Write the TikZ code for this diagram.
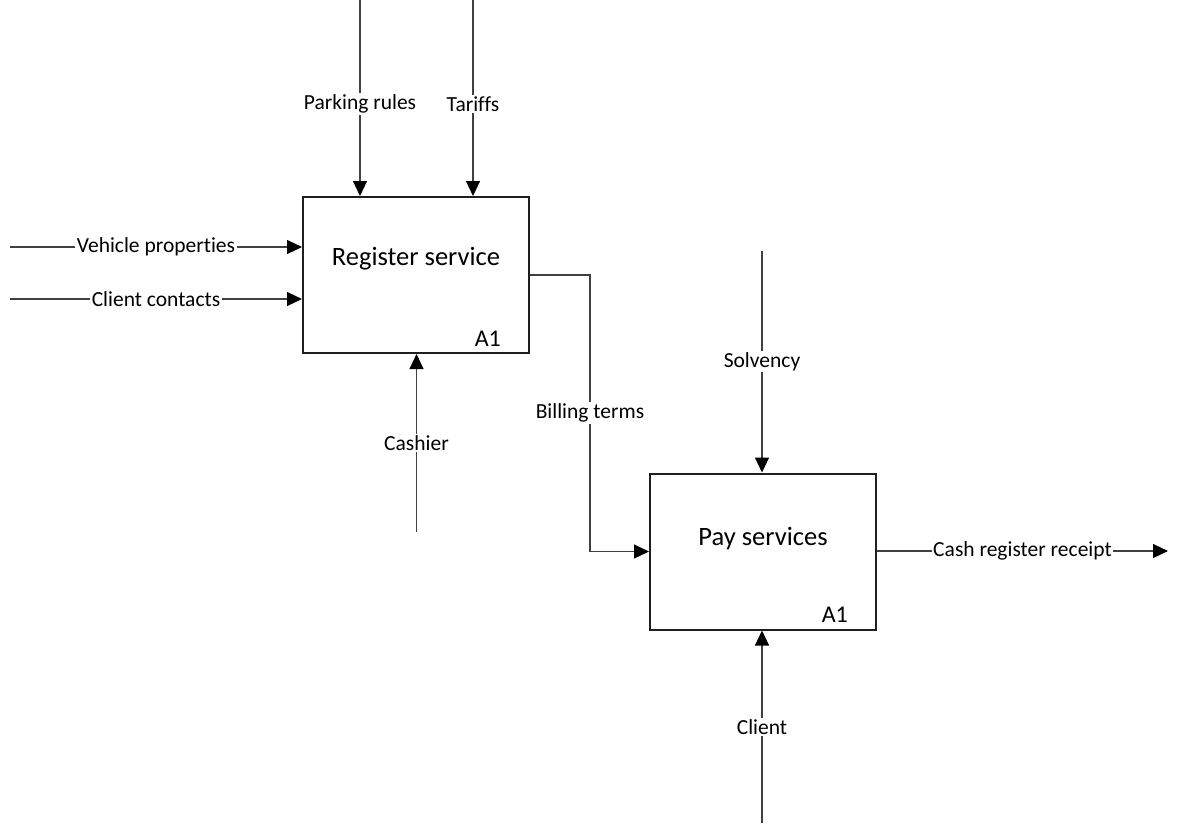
\documentclass[tikz,border=0pt]{standalone}
\usepackage{fontspec}
\setmainfont[RawFeature={-liga;-clig;-dlig;-calt}]{Carlito}
\usetikzlibrary{arrows.meta}
\begin{document}
\begin{tikzpicture}[x=1pt,y=-1pt,
  func/.style={draw=black!88,line width=2pt,minimum width=226pt,minimum height=156pt,inner sep=0pt},
  title/.style={font=\fontsize{26.5}{30}\selectfont,inner sep=0pt,anchor=base},
  code/.style={font=\fontsize{24}{28}\selectfont,inner sep=0pt,anchor=base east},
  flow/.style={draw=black!75,line width=1.1pt,-{Triangle[length=15pt,width=14pt,fill=black,color=black]}},
  lbl/.style={fill=white,inner sep=1.5pt,font=\fontsize{21.5}{25}\selectfont}]
\useasboundingbox (0,0) rectangle (1179,823);

% activity boxes
\node[func] (b1) at (416,275) {};
\node[func] (b2) at (763,551.5) {};
\node[title] (t1) at ([yshift=10pt]b1.center) {Register service};
\node[title] (t2) at ([yshift=6pt]b2.center) {Pay services};
\node[code] (c1) at ([xshift=-29pt,yshift=8pt]b1.south east) {A1};
\node[code] (c2) at ([xshift=-29pt,yshift=8pt]b2.south east) {A1};

% free ends of the arrows
\coordinate (prTop) at (360,0);
\coordinate (taTop) at (473,0);
\coordinate (vpL) at (10,247);
\coordinate (ccL) at (10,299);
\coordinate (caBot) at (416.5,532);
\coordinate (soTop) at (762,251);
\coordinate (clBot) at (762,823);
\coordinate (crR) at (1168,551);
\coordinate (btX) at (590,0);

% controls
\draw[flow] (prTop) -- node[lbl,pos=0.53]{Parking rules} (prTop |- b1.north);
\draw[flow] (taTop) -- node[lbl,pos=0.53]{Tariffs} (taTop |- b1.north);
\draw[flow] (soTop) -- node[lbl]{Solvency} (soTop |- b2.north);

% inputs
\draw[flow] (vpL) -- node[lbl]{Vehicle properties} (vpL -| b1.west);
\draw[flow] (ccL) -- node[lbl]{Client contacts} (ccL -| b1.west);

% mechanisms
\draw[flow] (caBot) -- node[lbl]{Cashier} (caBot |- b1.south);
\draw[flow] (clBot) -- node[lbl]{Client} (clBot |- b2.south);

% output
\draw[flow] (crR -| b2.east) -- node[lbl]{Cash register receipt} (crR);

% link between the two activities
\coordinate (bt1) at (btX |- b1.east);
\coordinate (bt2) at (btX |- b2.west);
\draw[flow] (b1.east) -- (bt1) -- node[lbl]{Billing terms} (bt2) -- (b2.west);
\end{tikzpicture}
\end{document}
